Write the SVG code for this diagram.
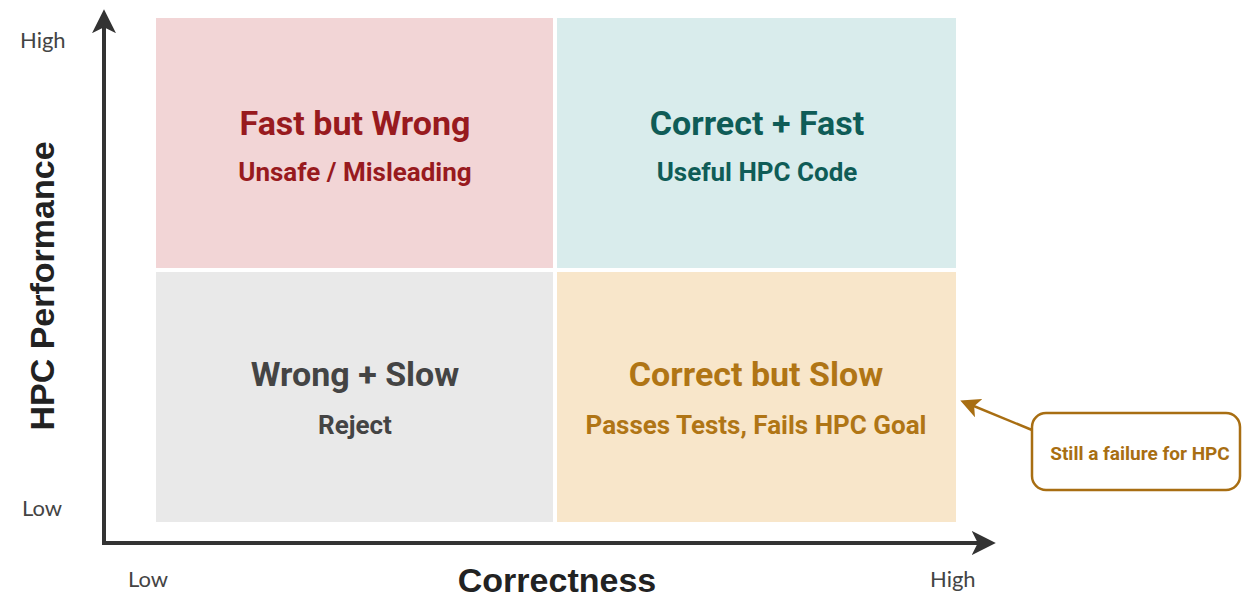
<svg xmlns="http://www.w3.org/2000/svg" width="1243" height="597" viewBox="0 0 1243 597">
  <style>
    .axis-lbl { font-family: Lato, "Open Sans", "Liberation Sans", sans-serif; font-size: 22px; fill: #444; }
    .axis-title { font-family: "Liberation Sans", Arial, sans-serif; font-weight: bold; font-size: 34px; fill: #222; }
    .q-title { font-family: "Roboto", "Liberation Sans", sans-serif; font-weight: bold; font-size: 34px; text-anchor: middle; }
    .q-sub { font-family: "Roboto", "Liberation Sans", sans-serif; font-weight: bold; font-size: 26px; text-anchor: middle; }
    .axis { stroke: #333; stroke-width: 4; fill: none; }
    .callout-line { stroke: #a86e12; stroke-width: 2.5; fill: none; }
  </style>
  <defs>
    <marker id="axisHead" viewBox="0 0 10 10" refX="8" refY="5" markerWidth="6" markerHeight="6" markerUnits="strokeWidth" orient="auto">
      <path d="M0,0 L10,5 L0,10 L2.5,5 Z" fill="#333"/>
    </marker>
    <marker id="calloutHead" viewBox="0 0 10 10" refX="8" refY="5" markerWidth="8" markerHeight="8" markerUnits="strokeWidth" orient="auto">
      <path d="M0,0 L10,5 L0,10 L2.5,5 Z" fill="#a86e12"/>
    </marker>
  </defs>

  <rect width="1243" height="597" fill="#ffffff"/>

  <!-- quadrants -->
  <g id="q-fast-wrong">
    <rect x="156" y="18" width="397" height="250" fill="#f2d5d6"/>
    <text class="q-title" x="355" y="135" fill="#981a1e">Fast but Wrong</text>
    <text class="q-sub" x="355" y="181" fill="#981a1e">Unsafe / Misleading</text>
  </g>
  <g id="q-correct-fast">
    <rect x="557" y="18" width="399" height="250" fill="#d9ecec"/>
    <text class="q-title" x="757" y="135" fill="#0f5c57">Correct + Fast</text>
    <text class="q-sub" x="757" y="181" fill="#0f5c57">Useful HPC Code</text>
  </g>
  <g id="q-wrong-slow">
    <rect x="156" y="272" width="397" height="250" fill="#e9e9e9"/>
    <text class="q-title" x="355" y="386" fill="#444444">Wrong + Slow</text>
    <text class="q-sub" x="355" y="434" fill="#444444">Reject</text>
  </g>
  <g id="q-correct-slow">
    <rect x="557" y="272" width="399" height="250" fill="#f8e6ca"/>
    <text class="q-title" x="756" y="386" fill="#b07515">Correct but Slow</text>
    <text class="q-sub" x="756" y="434" fill="#b07515">Passes Tests, Fails HPC Goal</text>
  </g>

  <!-- callout -->
  <g id="callout">
    <rect x="1032" y="413" width="208" height="77" rx="14" fill="#ffffff" stroke="#a86e12" stroke-width="2.5"/>
    <text x="1140" y="460" text-anchor="middle" font-family="Roboto, 'Liberation Sans', sans-serif" font-weight="bold" font-size="19" fill="#a86e12">Still a failure for HPC</text>
  </g>

  <!-- axes and connectors -->
  <g id="connectors">
    <path class="axis" d="M104,545 L104,14" marker-end="url(#axisHead)"/>
    <path class="axis" d="M102,543 L991,543" marker-end="url(#axisHead)"/>
    <path class="callout-line" d="M1032,430 L964,402" marker-end="url(#calloutHead)"/>
  </g>

  <!-- axis labels -->
  <g id="axis-labels">
    <text class="axis-lbl" x="20" y="48">High</text>
    <text class="axis-lbl" x="22" y="516">Low</text>
    <text class="axis-lbl" x="128" y="587">Low</text>
    <text class="axis-lbl" x="930" y="587">High</text>
    <text class="axis-title" x="557" y="592" text-anchor="middle">Correctness</text>
    <text class="axis-title" x="0" y="0" text-anchor="middle" transform="translate(54,286) rotate(-90)">HPC Performance</text>
  </g>
</svg>
